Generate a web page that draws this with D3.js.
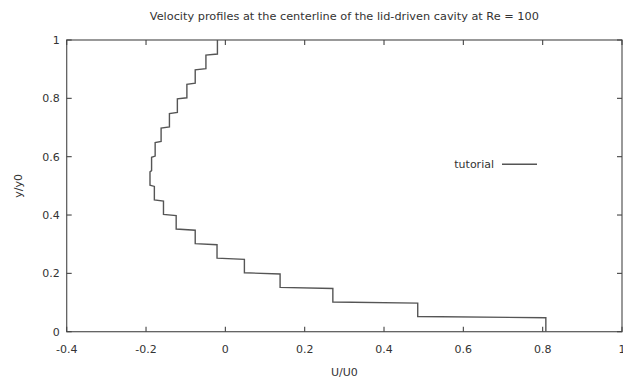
<!DOCTYPE html>
<html>
<head>
<meta charset="utf-8">
<script src="https://cdn.jsdelivr.net/npm/d3@7"></script>
<style>
  body { margin: 0; background: #fff; }
  svg { display: block; font-family: 'DejaVu Sans', Verdana, sans-serif; }
  .lbl { fill: #333; font-size: 11px; }
</style>
</head>
<body>
<svg id="svg" width="623" height="380"></svg>
<script>
// cell bounds along the centerline (y/y0) and velocity U/U0 in each cell
const cellLow = [0, 0.05, 0.1, 0.15, 0.2, 0.25, 0.3, 0.35, 0.4, 0.45,
                 0.5, 0.55, 0.6, 0.65, 0.7, 0.75, 0.8, 0.85, 0.9, 0.95];
const cellHigh = [0.05, 0.1, 0.15, 0.2, 0.25, 0.3, 0.35, 0.4, 0.45, 0.5,
                  0.55, 0.6, 0.65, 0.7, 0.75, 0.8, 0.85, 0.9, 0.95, 1];
const uValues = [0.808, 0.485, 0.271, 0.138, 0.048, -0.021, -0.076, -0.124, -0.156, -0.179,
                 -0.190, -0.186, -0.177, -0.162, -0.141, -0.121, -0.097, -0.076, -0.049, -0.020];
const xTicks = [-0.4, -0.2, 0, 0.2, 0.4, 0.6, 0.8, 1];
const yTicks = [0, 0.2, 0.4, 0.6, 0.8, 1];
const seriesName = 'tutorial';
const title = 'Velocity profiles at the centerline of the lid-driven cavity at Re = 100';

const margin = { top: 40, right: 1, bottom: 48.3, left: 66.7 };
const W = 623, H = 380;
const width = W - margin.left - margin.right;
const height = H - margin.top - margin.bottom;
const gap = 0.002;

const svg = d3.select('#svg');
const x = d3.scaleLinear().domain([-0.4, 1]).range([margin.left, margin.left + width]);
const y = d3.scaleLinear().domain([0, 1]).range([margin.top + height, margin.top]);

// frame
svg.append('rect')
  .attr('x', x(-0.4)).attr('y', y(1))
  .attr('width', x(1) - x(-0.4)).attr('height', y(0) - y(1))
  .attr('fill', 'none').attr('stroke', '#555').attr('stroke-width', 1.2);

// mirrored ticks pointing inwards
const tk = 5;
const ticks = svg.append('g').attr('stroke', '#444').attr('stroke-width', 1.1);
xTicks.forEach(v => {
  ticks.append('line').attr('x1', x(v)).attr('x2', x(v)).attr('y1', y(0)).attr('y2', y(0) - tk);
  ticks.append('line').attr('x1', x(v)).attr('x2', x(v)).attr('y1', y(1)).attr('y2', y(1) + tk);
});
yTicks.forEach(v => {
  ticks.append('line').attr('x1', x(-0.4)).attr('x2', x(-0.4) + tk).attr('y1', y(v)).attr('y2', y(v));
  ticks.append('line').attr('x1', x(1)).attr('x2', x(1) - tk).attr('y1', y(v)).attr('y2', y(v));
});

svg.append('g').selectAll('text').data(xTicks).join('text')
  .attr('class', 'lbl')
  .attr('x', d => x(d)).attr('y', y(0) + 21)
  .attr('text-anchor', 'middle')
  .text(d => String(d));

svg.append('g').selectAll('text').data(yTicks).join('text')
  .attr('class', 'lbl')
  .attr('x', x(-0.4) - 7).attr('y', d => y(d) + 4)
  .attr('text-anchor', 'end')
  .text(d => String(d));

// axis titles
svg.append('text').attr('class', 'lbl')
  .attr('x', (x(-0.4) + x(1)) / 2).attr('y', 20)
  .attr('text-anchor', 'middle').style('font-size', '11.3px').text(title);
svg.append('text').attr('class', 'lbl')
  .attr('x', (x(-0.4) + x(1)) / 2).attr('y', 376)
  .attr('text-anchor', 'middle').text('U/U0');
svg.append('text').attr('class', 'lbl')
  .attr('transform', `translate(22,${(y(0) + y(1)) / 2}) rotate(-90)`)
  .attr('text-anchor', 'middle').text('y/y0');

// step profile: one vertical run per cell
const pts = [];
uValues.forEach((u, i) => {
  const lo = i === 0 ? cellLow[i] : cellLow[i] + gap;
  const hi = i === uValues.length - 1 ? cellHigh[i] : cellHigh[i] - gap;
  pts.push([u, lo], [u, hi]);
});
const line = d3.line().x(d => x(d[0])).y(d => y(d[1]));
svg.append('path').datum(pts)
  .attr('d', line)
  .attr('fill', 'none').attr('stroke', '#555').attr('stroke-width', 1.4);

// legend
const ly = 164.3;
svg.append('text').attr('class', 'lbl')
  .attr('x', 494).attr('y', ly + 4)
  .attr('text-anchor', 'end').text(seriesName);
svg.append('line')
  .attr('x1', 502).attr('x2', 537).attr('y1', ly).attr('y2', ly)
  .attr('stroke', '#555').attr('stroke-width', 1.4);
</script>
</body>
</html>
